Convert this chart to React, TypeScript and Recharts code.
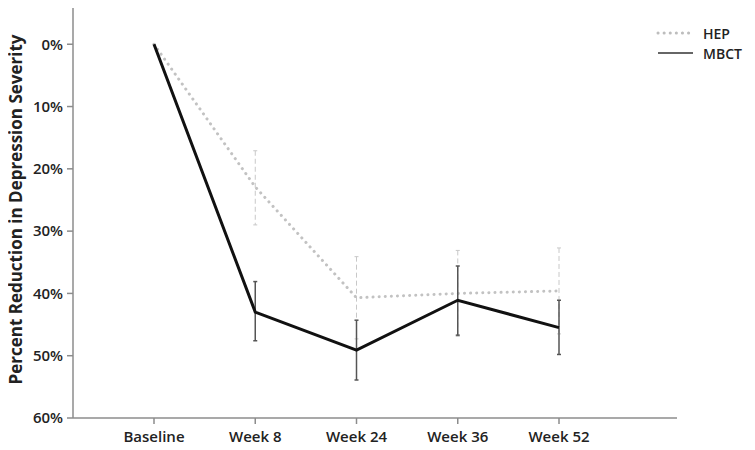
import {
  LineChart,
  Line,
  XAxis,
  YAxis,
  ErrorBar,
  Legend,
} from "recharts";

const semanas = ["Baseline", "Week 8", "Week 24", "Week 36", "Week 52"];

// reduction in depression severity (%)
const mbct = [0, 43.0, 49.1, 41.1, 45.5];
const mbctBaixo = [null, 38.1, 44.3, 35.6, 41.1];
const mbctAlto = [null, 47.6, 53.9, 46.7, 49.8];

const hep = [0, 22.9, 40.7, 40.0, 39.6];
const hepBaixo = [null, 17.1, 34.1, 33.1, 32.7];
const hepAlto = [null, 29.0, 47.3, 46.9, 46.5];

const ticksY = [0, 10, 20, 30, 40, 50, 60];

const FONTE = "'Open Sans', 'DejaVu Sans', sans-serif";

const erro = (v: number, lo: number | null, hi: number | null) =>
  lo == null || hi == null ? null : [v - lo, hi - v];

const dados = semanas.map((s, i) => ({
  semana: s,
  hep: hep[i],
  hepErro: erro(hep[i], hepBaixo[i], hepAlto[i]),
  mbct: mbct[i],
  mbctErro: erro(mbct[i], mbctBaixo[i], mbctAlto[i]),
}));

function RotuloY(props: any) {
  const { viewBox } = props;
  const cx = 15;
  const cy = viewBox.y + viewBox.height / 2 - 2;
  return (
    <text
      x={cx}
      y={cy}
      transform={`rotate(-90 ${cx} ${cy})`}
      textAnchor="middle"
      dominantBaseline="central"
      fontFamily={FONTE}
      fontSize={17}
      fontWeight={700}
      fill="#222"
    >
      Percent Reduction in Depression Severity
    </text>
  );
}

function Legenda() {
  const itens = [
    { nome: "HEP", cor: "#bdbdbd", dash: "0.1 6", cap: "round" as const },
    { nome: "MBCT", cor: "#666", dash: undefined, cap: "butt" as const },
  ];
  return (
    <div style={{ fontFamily: FONTE }}>
      {itens.map((it) => (
        <div
          key={it.nome}
          style={{ display: "flex", alignItems: "center", height: 20 }}
        >
          <svg width={48} height={20}>
            <line
              x1={3}
              x2={38}
              y1={10}
              y2={10}
              stroke={it.cor}
              strokeWidth={it.dash ? 3 : 2}
              strokeDasharray={it.dash}
              strokeLinecap={it.cap}
            />
          </svg>
          <span style={{ fontSize: 14, fontWeight: 600, color: "#222" }}>
            {it.nome}
          </span>
        </div>
      ))}
    </div>
  );
}

export default function App() {
  return (
    <div style={{ margin: -8, background: "#fff", width: 755, height: 450 }}>
      <LineChart
        width={755}
        height={450}
        data={dados}
        margin={{ top: 5, right: 78, bottom: 0, left: 0 }}
      >
        <XAxis
          dataKey="semana"
          padding={{ left: 81, right: 118 }}
          tickSize={6}
          tickMargin={7}
          stroke="#8c8c8c"
          strokeWidth={1.5}
          tick={{ fill: "#222", fontSize: 15, fontFamily: FONTE, fontWeight: 600 }}
          height={32}
          interval={0}
        />
        <YAxis
          type="number"
          domain={[-6.3, 60]}
          ticks={ticksY}
          reversed
          allowDataOverflow
          width={73}
          tickSize={6}
          tickMargin={4}
          stroke="#8c8c8c"
          strokeWidth={1.5}
          tickFormatter={(v) => `${v}%`}
          tick={{ fill: "#222", fontSize: 15, fontFamily: FONTE, fontWeight: 600 }}
          label={<RotuloY />}
        />
        <Legend
          layout="vertical"
          align="center"
          verticalAlign="middle"
          wrapperStyle={{ top: 23, left: 655, width: 100 }}
          content={<Legenda />}
        />
        <Line
          dataKey="hep"
          name="HEP"
          stroke="#c2c2c2"
          strokeWidth={3}
          strokeDasharray="0.1 6"
          strokeLinecap="round"
          dot={false}
          isAnimationActive={false}
        >
          <ErrorBar
            dataKey="hepErro"
            width={2}
            stroke="#c8c8c8"
            strokeWidth={1}
            strokeDasharray="5 3"
          />
        </Line>
        <Line
          dataKey="mbct"
          name="MBCT"
          stroke="#111"
          strokeWidth={3}
          dot={false}
          isAnimationActive={false}
        >
          <ErrorBar dataKey="mbctErro" width={2} stroke="#555" strokeWidth={1.5} />
        </Line>
      </LineChart>
    </div>
  );
}
